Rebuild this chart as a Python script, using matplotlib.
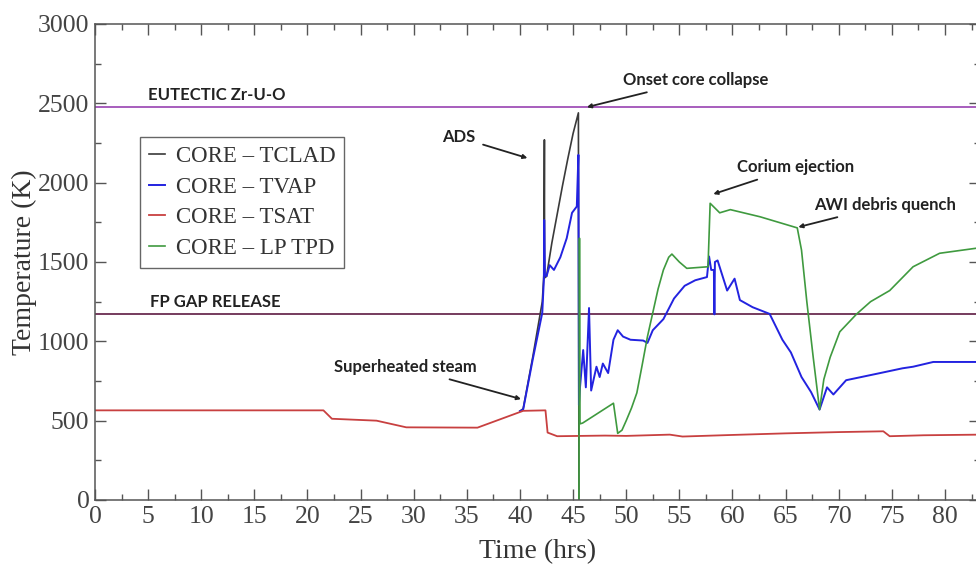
import matplotlib
matplotlib.use("Agg")
import matplotlib.pyplot as plt
from matplotlib.ticker import MultipleLocator

# time (hrs) / temperature (K)
tsat_t = [0, 21.5, 22.3, 26.5, 29.3, 36.0, 40.3, 42.4, 42.6, 43.5, 48, 50, 54.1, 55.3,
          60, 65, 70, 74.2, 74.8, 78, 83.3]
tsat_v = [565, 565, 512, 500, 458, 456, 562, 565, 425, 402, 406, 404, 412, 400,
          410, 420, 428, 433, 402, 408, 412]

tclad_t = [40.0, 40.3, 41.2, 42.1, 42.25, 42.3, 42.32, 42.5, 43.0, 43.5, 44.0, 44.5,
           45.0, 45.5, 45.55]
tclad_v = [560, 575, 900, 1250, 1420, 2270, 1400, 1410, 1620, 1800, 1980, 2150,
           2310, 2440, 0]

tvap_t = [40.0, 40.3, 41.2, 42.1, 42.25, 42.28, 42.35, 42.5, 42.8, 43.2, 43.8, 44.4, 44.9,
          45.35, 45.5, 45.55, 45.65, 45.95, 46.2, 46.5, 46.7, 47.2, 47.5, 47.8, 48.3, 48.8,
          49.2, 49.7, 50.4, 51.6, 52.0, 52.5, 53.5, 54.5, 55.5, 56.5, 57.6, 57.8, 58.0,
          58.25, 58.3, 58.35, 58.6, 59.5, 60.2, 60.7, 61.9, 63.5, 64.7, 65.5, 66.5, 67.4,
          68.2, 68.9, 69.5, 70.7, 73.9, 76.0, 77.0, 78.9, 83.3]
tvap_v = [560, 570, 885, 1180, 1390, 1765, 1420, 1410, 1480, 1450, 1530, 1650, 1810,
          1850, 2175, 600, 710, 945, 710, 1210, 690, 840, 775, 860, 800, 1010,
          1070, 1030, 1010, 1005, 990, 1070, 1140, 1270, 1350, 1385, 1405, 1535, 1450,
          1450, 1170, 1500, 1510, 1320, 1395, 1260, 1215, 1173, 1010, 930, 775, 680,
          570, 710, 665, 755, 800, 830, 840, 870, 870]

lptpd_t = [45.55, 45.6, 45.65, 45.9, 48.8, 49.2, 49.6, 50.0, 50.5, 51.0, 51.5, 52.0, 52.5,
           53.0, 53.5, 54.0, 54.3, 55.0, 55.7, 57.7, 57.9, 58.8, 59.8, 62.6, 66.1, 66.5,
           67.0, 67.6, 68.2, 68.6, 69.2, 70.1, 71.7, 73.0, 74.8, 77.0, 79.5, 83.3]
lptpd_v = [0, 1650, 480, 485, 610, 420, 440, 500, 580, 675, 850, 1030, 1180,
           1330, 1450, 1530, 1550, 1500, 1460, 1470, 1870, 1810, 1830, 1785, 1715, 1575,
           1250, 900, 570, 760, 900, 1060, 1173, 1250, 1320, 1470, 1555, 1590]

eutectic = 2480
fp_gap = 1173

SERIF = "Liberation Serif"
NOTE = dict(fontfamily="Lato", fontweight="bold", fontsize=12, color="#222222")

fig = plt.figure(figsize=(9.76, 5.65), dpi=100)
ax = fig.add_axes([95 / 976, 65 / 565, 885 / 976, 476 / 565])

ax.axhline(eutectic, color="#a050b8", lw=1.3, zorder=1)
ax.axhline(fp_gap, color="#6a2c50", lw=1.3, zorder=1)

ax.plot(tclad_t, tclad_v, color="#3a3a3a", lw=1.2, label="CORE \u2013 TCLAD")
ax.plot(tvap_t, tvap_v, color="#2323e0", lw=1.4, label="CORE \u2013 TVAP")
ax.plot(tsat_t, tsat_v, color="#c84040", lw=1.3, label="CORE \u2013 TSAT")
ax.plot(lptpd_t, lptpd_v, color="#3f9a3f", lw=1.2, label="CORE \u2013 LP TPD")

ax.set_xlim(0, 83.3)
ax.set_ylim(0, 3000)
ax.xaxis.set_major_locator(MultipleLocator(5))
ax.xaxis.set_minor_locator(MultipleLocator(2.5))
ax.yaxis.set_major_locator(MultipleLocator(500))
ax.yaxis.set_minor_locator(MultipleLocator(250))
ax.tick_params(which="both", direction="in", top=True, right=True, color="#555555")
ax.tick_params(which="major", length=8, width=1)
ax.tick_params(which="minor", length=4, width=1)
ax.tick_params(labelsize=18.5, labelcolor="#444444", pad=4)
for lab in ax.get_xticklabels() + ax.get_yticklabels():
    lab.set_fontfamily(SERIF)
for sp in ax.spines.values():
    sp.set_color("#555555")
    sp.set_linewidth(1.1)

ax.set_xlabel("Time (hrs)", fontfamily=SERIF, fontsize=20, color="#333333", labelpad=8)
ax.set_ylabel("Temperature (K)", fontfamily=SERIF, fontsize=20, color="#333333",
              labelpad=1)

leg = ax.legend(loc="upper left", bbox_to_anchor=(0.051, 0.763), borderaxespad=0,
                prop={"family": SERIF, "size": 16.5}, handlelength=0.7,
                handletextpad=0.45, labelspacing=0.42, borderpad=0.4,
                fancybox=False, framealpha=1)
leg.get_frame().set_edgecolor("#666666")
leg.get_frame().set_linewidth(1.0)
for txt in leg.get_texts():
    txt.set_color("#333333")

ax.text(5.0, 2552, "EUTECTIC Zr-U-O", ha="left", va="center", **NOTE)
ax.text(5.2, 1248, "FP GAP RELEASE", ha="left", va="center", **NOTE)

arrow = dict(arrowstyle="-|>", color="#222222", lw=1.3, mutation_scale=6,
             shrinkA=4, shrinkB=0)
ax.annotate("ADS", xy=(40.7, 2155), xytext=(34.2, 2287), ha="center", va="center",
            arrowprops=arrow, **NOTE)
ax.annotate("Onset core collapse", xy=(46.3, 2476), xytext=(49.7, 2646), ha="left",
            va="center", arrowprops=arrow, **NOTE)
ax.annotate("Superheated steam", xy=(40.1, 636), xytext=(29.2, 838), ha="center",
            va="center", arrowprops=arrow, **NOTE)
ax.annotate("Corium ejection", xy=(58.2, 1928), xytext=(60.4, 2098), ha="left",
            va="center", arrowprops=arrow, **NOTE)
ax.annotate("AWI debris quench", xy=(66.2, 1720), xytext=(67.7, 1859), ha="left",
            va="center", arrowprops=arrow, **NOTE)

fig.savefig("out.png", dpi=100)
